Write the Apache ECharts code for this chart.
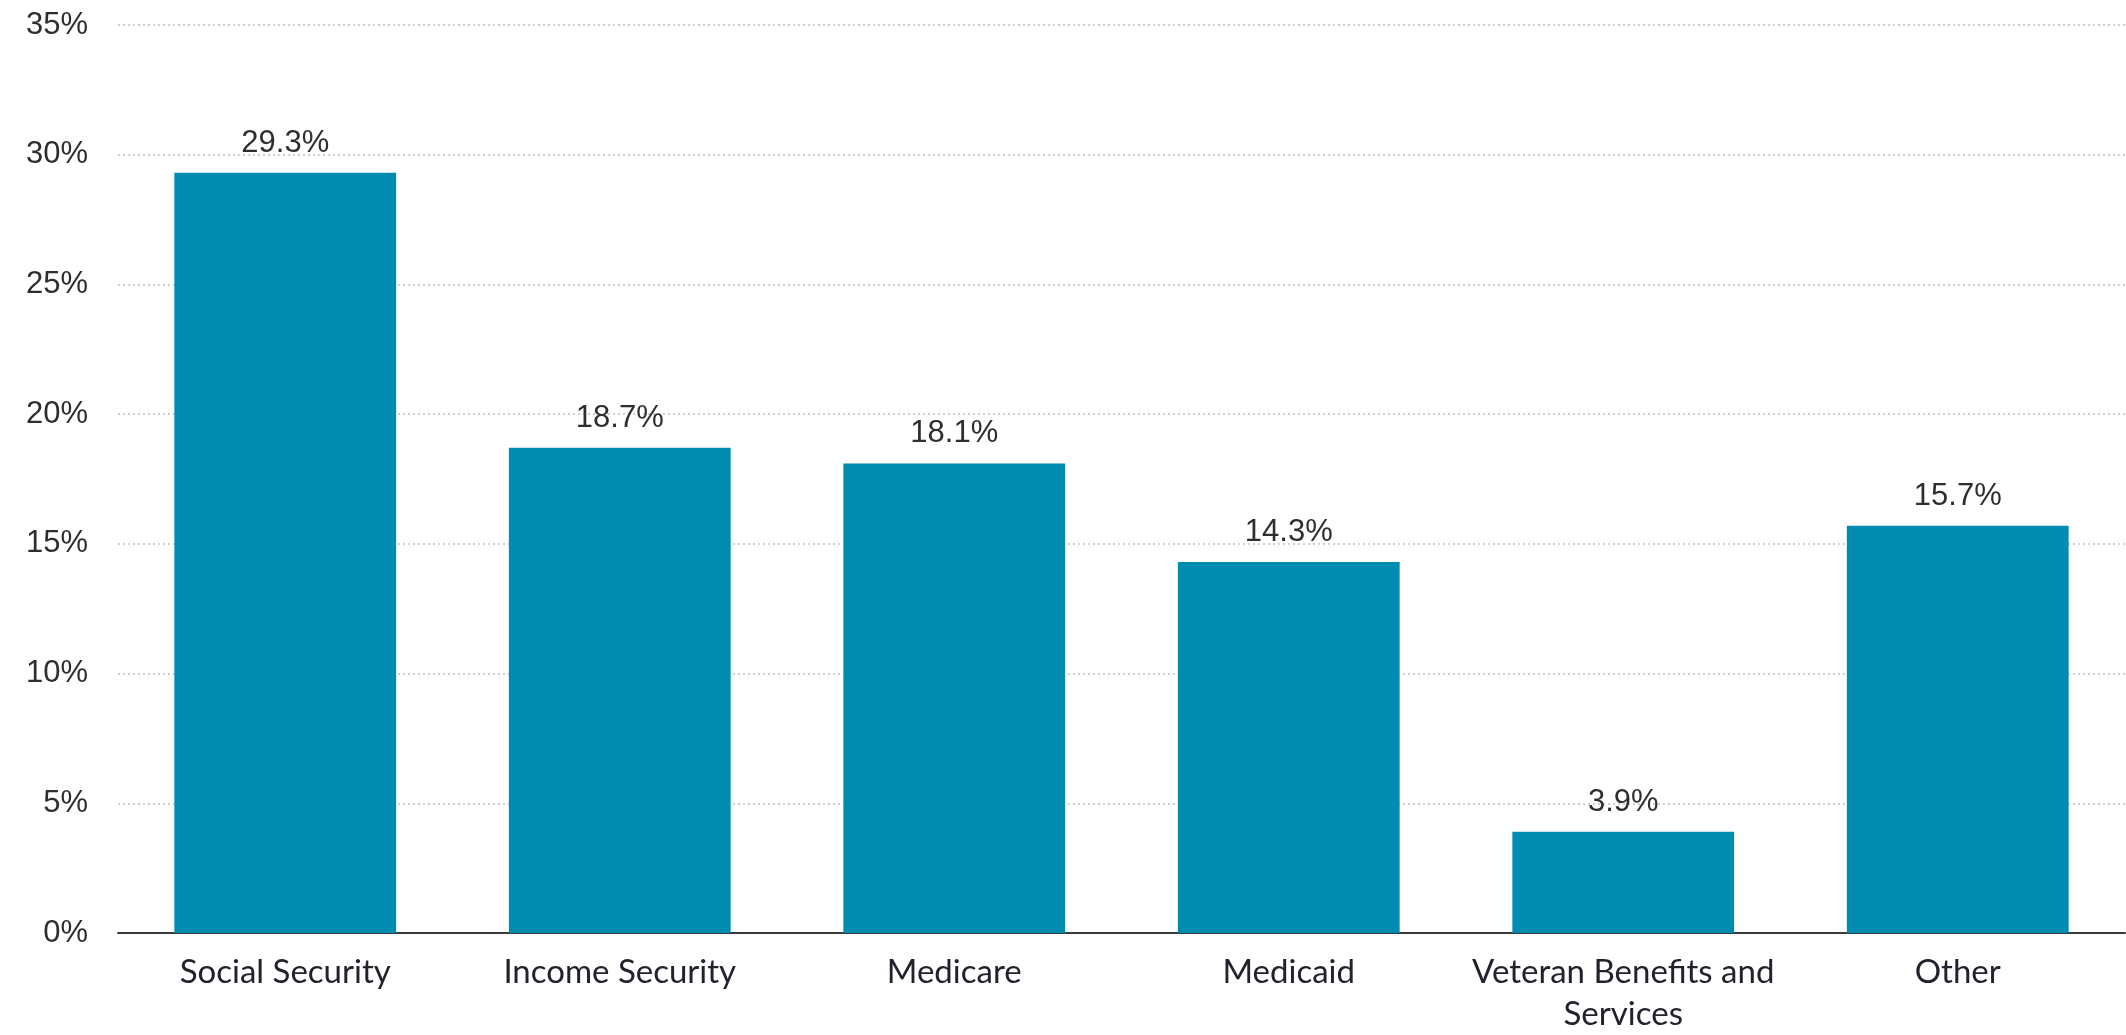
<!DOCTYPE html>
<html>
<head>
<meta charset="utf-8">
<script src="https://cdn.jsdelivr.net/npm/echarts@6/dist/echarts.min.js"></script>
<style>
html,body{margin:0;padding:0;background:#fff;}
#chart{width:2126px;height:1035px;}
</style>
</head>
<body>
<div id="chart"></div>
<script>
const categories = ["Social Security", "Income Security", "Medicare", "Medicaid", "Veteran Benefits and\nServices", "Other"];
const values = [29.3, 18.7, 18.1, 14.3, 3.9, 15.7];
const yMin = 0, yMax = 35, yStep = 5;

const chart = echarts.init(document.getElementById('chart'), null, {renderer: 'canvas'});
chart.setOption({
  animation: false,
  backgroundColor: '#ffffff',
  grid: {left: 118, right: 1, top: 25, bottom: 97, containLabel: false},
  xAxis: {
    type: 'category',
    data: categories,
    axisLine: {show: true, lineStyle: {color: '#3a3a3a', width: 2}},
    axisTick: {show: false},
    axisLabel: {
      margin: 18,
      fontFamily: 'Lato',
      fontSize: 33,
      lineHeight: 42,
      color: '#22222c',
      interval: 0
    }
  },
  yAxis: {
    type: 'value',
    min: yMin, max: yMax, interval: yStep,
    axisLine: {show: false},
    axisTick: {show: false},
    splitLine: {show: true, lineStyle: {color: '#cfcfcf', width: 2, type: [2, 3]}},
    axisLabel: {
      margin: 30,
      fontFamily: 'Liberation Sans',
      fontSize: 31,
      color: '#2e2e2e',
      formatter: '{value}%'
    }
  },
  series: [{
    type: 'bar',
    data: values,
    barWidth: '66.3%',
    itemStyle: {color: '#008bb0'},
    label: {
      show: true,
      position: 'top',
      distance: 14,
      fontFamily: 'Liberation Sans',
      fontSize: 31,
      color: '#2e2e2e',
      formatter: p => p.value.toFixed(1) + '%'
    }
  }]
});
</script>
</body>
</html>
